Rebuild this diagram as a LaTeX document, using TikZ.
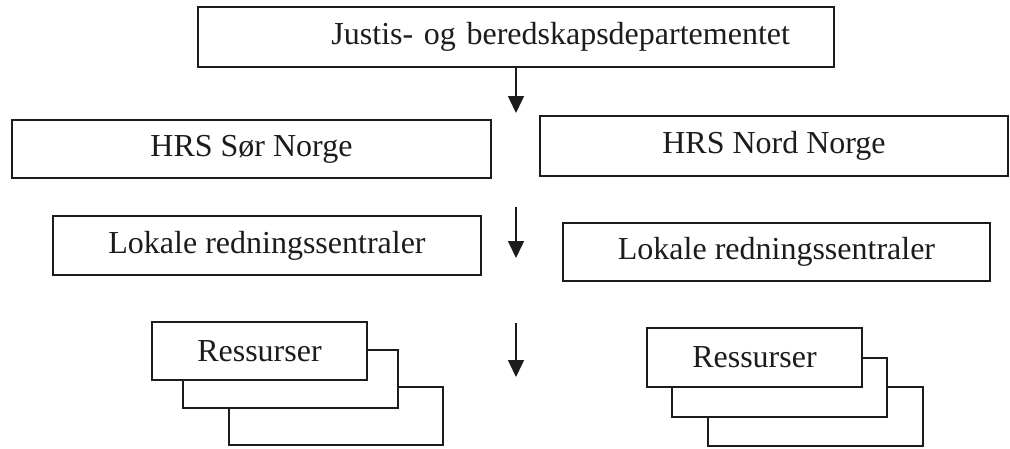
\documentclass[tikz,border=0pt]{standalone}
\usepackage{fontspec}
\setmainfont{Liberation Serif}
\usetikzlibrary{arrows.meta}
\definecolor{ink}{HTML}{1C1C1C}
\tikzset{
  box/.style={draw=ink, line width=1.6pt, fill=white, inner sep=0pt, outer sep=0pt,
    font=\fontsize{32}{38}\selectfont, text=ink},
  conn/.style={draw=ink, line width=1.5pt, -{Triangle[width=16pt,length=17pt]}}
}
\begin{document}
\begin{tikzpicture}[x=1pt, y=-1pt]
\useasboundingbox (0,0) rectangle (1010,448);
% top
\node[box, minimum width=636pt, minimum height=60pt, text width=548pt, align=right]
  (jd) at (516,37) {Justis- og beredskapsdepartementet};
% HRS
\node[box, minimum width=479pt, minimum height=58pt] (hs) at (251.5,149) {HRS Sør Norge};
\node[box, minimum width=468pt, minimum height=60pt] (hn) at (774,146) {HRS Nord Norge};
% Lokale
\node[box, minimum width=428pt, minimum height=59pt] (ls) at (267,245.5) {Lokale redningssentraler};
\node[box, minimum width=427pt, minimum height=58pt] (ln) at (776.5,252) {Lokale redningssentraler};
% Ressurser left stack
\node[box, minimum width=214pt, minimum height=58pt] (rs3) at (336,416) {};
\node[box, minimum width=215pt, minimum height=58pt] (rs2) at (290.5,379) {};
\node[box, minimum width=215pt, minimum height=58pt] (rs1) at (259.5,351) {Ressurser};
% Ressurser right stack
\node[box, minimum width=215pt, minimum height=59pt] (rn3) at (815.5,416.5) {};
\node[box, minimum width=215pt, minimum height=59pt] (rn2) at (779.5,387.5) {};
\node[box, minimum width=215pt, minimum height=59pt] (rn1) at (754.5,357.5) {Ressurser};
% arrows
\coordinate (a1e) at (516,113);
\coordinate (a2s) at (516,207);
\coordinate (a2e) at (516,258);
\coordinate (a3s) at (516,323);
\coordinate (a3e) at (516,377);
\draw[conn] (jd.south) -- (a1e);
\draw[conn] (a2s) -- (a2e);
\draw[conn] (a3s) -- (a3e);
\end{tikzpicture}
\end{document}
